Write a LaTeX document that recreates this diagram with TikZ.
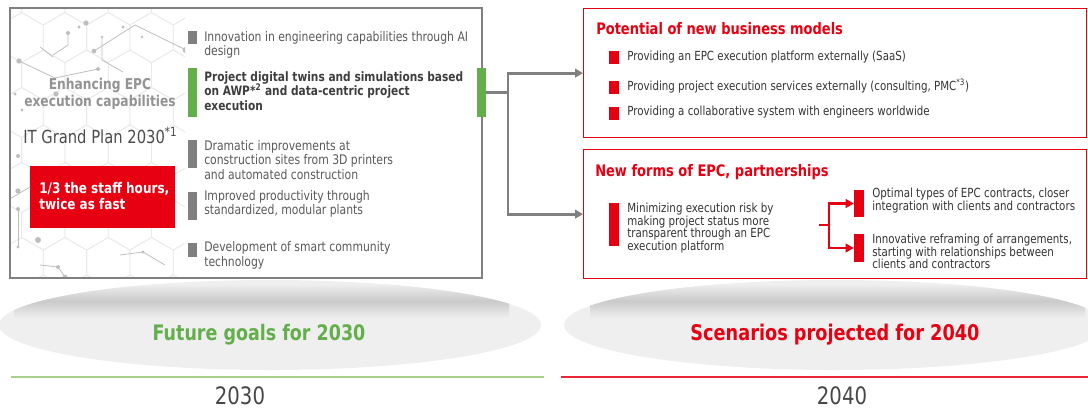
\documentclass[tikz,border=0pt]{standalone}
\usepackage{fontspec}
\setmainfont[FakeStretch=0.82]{DejaVu Sans}
\usetikzlibrary{arrows.meta,positioning}
\definecolor{chred}{RGB}{230,0,18}
\definecolor{chgreen}{RGB}{100,174,76}
\definecolor{lgreen}{RGB}{169,209,142}
\definecolor{bargray}{RGB}{128,128,128}
\definecolor{txt}{RGB}{89,89,89}
\definecolor{dtxt}{RGB}{51,51,51}
\definecolor{hexc}{RGB}{234,234,234}
\definecolor{netc}{RGB}{190,190,190}
\definecolor{ell}{RGB}{239,239,239}
\tikzset{
  every node/.style={inner sep=0pt},
  % Balken und Markierungen
  bar/.style={fill=#1, minimum width=6.75pt},
  sq/.style={fill=chred, minimum width=7.5pt, minimum height=9.75pt},
  % Texte
  item/.style={txt, anchor=west, align=left, font=\fontsize{9.9}{10.9}\selectfont},
  rtext/.style={dtxt, anchor=west, align=left, font=\fontsize{9.4}{9.5}\selectfont},
  title/.style={chred, anchor=base west, font=\fontsize{11.9}{13}\selectfont\bfseries},
  % Verbindungen
  conn/.style={bargray, line width=2.2pt},
  redconn/.style={chred, line width=2.2pt},
  tip/.style={-{Triangle[length=6pt,width=6.5pt]}},
  hexline/.style={hexc, line width=0.6pt},
  net/.style={netc, line width=0.6pt},
  ndot/.style={circle, fill=netc, minimum size=#1},
  ndot/.default=3pt,
}
\begin{document}
\begin{tikzpicture}[x=0.75pt, y=-0.75pt]
  \useasboundingbox (0,0) rectangle (1088,408);
  % Ellipsen unten mit Schatten
  \foreach \cx/\sx in {270/14, 835/590} {
    \begin{scope}
      \fill[ell] (\cx,325) ellipse [x radius=203.25pt, y radius=33.75pt];
      \clip (\cx,325) ellipse [x radius=203.25pt, y radius=33.75pt];
      \shade[top color=ell, bottom color=ell, middle color=black!21] (\sx,284) rectangle ++(495,34);
    \end{scope}
  }
  % Hexagonmuster links
  \begin{scope}
    \clip (10,8) rectangle (185,278);
    \foreach \i in {0,...,5} {
      \foreach \j in {0,...,8} {
        \pgfmathsetmacro{\hx}{\i*43.3+mod(\j,2)*21.65}
        \pgfmathsetmacro{\hy}{\j*37.5}
        \draw[hexline] (\hx,\hy) +(90:25) -- +(30:25) -- +(-30:25) -- +(-90:25) -- +(-150:25) -- +(150:25) -- cycle;
      }
    }
    \draw[net] (19,61) -- (55,78) -- (98,69);
    \draw[net] (94,51) -- (135,25) -- (186,50);
    \draw[net] (102,37) -- (102,60) -- (123,72);
    \draw[net] (68,33) -- (68,45) -- (53,55);
    \draw[net] (40,47) -- (53,57);
    \draw[net] (8,200) -- (30,187) -- (30,170);
    \draw[net] (18,209) -- (18,247);
    \draw[net] (143,252) -- (165,265);
    \draw[net] (120,255) -- (143,252);
    \draw[net] (40,265) -- (58,267) -- (65,277);
    \foreach \p/\s in {{(19,61)}/4pt, {(86,23)}/4pt, {(79,27)}/2.5pt, {(68,33)}/3pt, {(102,37)}/2pt,
        {(123,27)}/2.5pt, {(94,51)}/3.5pt, {(142,37)}/2pt, {(186,50)}/5pt, {(98,69)}/3pt,
        {(56,94)}/4pt, {(15,94)}/2.5pt, {(22,110)}/2.5pt, {(18,191)}/4pt, {(18,209)}/3pt,
        {(38,240)}/4.5pt, {(18,247)}/2.5pt, {(65,277)}/3.5pt, {(143,252)}/2.5pt, {(58,267)}/3pt,
        {(18,156)}/3pt}
      \node[ndot=\s] at \p {};
  \end{scope}
  % linker Kasten
  \draw[bargray, line width=1.1pt] (10,8) rectangle (482,278);
  \node[bargray!85, align=center, font=\fontsize{11.2}{12.75}\selectfont\bfseries] (enh) at (100,93.5)
    {Enhancing EPC\\execution capabilities};
  \node[txt!85!black, anchor=base west, font=\fontsize{13.5}{15}\selectfont] (plan) at (23,143)
    {IT Grand Plan 2030\textsuperscript{*1}};
  \node[fill=chred, anchor=north west, minimum width=108.75pt, minimum height=46.5pt] (goal) at (30,166) {};
  \node[white, anchor=west, align=left, font=\fontsize{11}{12}\selectfont\bfseries] (goaltxt) at (39,196.5)
    {1/3 the staff hours,\\twice as fast};
  % Stichpunkte
  \node[bar=bargray, minimum height=9.75pt] (b1) at (192.5,37.5) {};
  \node[bar=chgreen, minimum height=36.75pt] (gbar) at (192.5,92.5) {};
  \node[bar=bargray, minimum height=21pt] (b3) at (192.5,154) {};
  \node[bar=bargray, minimum height=21pt] (b4) at (192.5,206) {};
  \node[bar=bargray, minimum height=10.5pt] (b5) at (192.5,250) {};
  \node[item] (t1) at (204,45) {Innovation in engineering capabilities through AI\\design};
  \node[item, text=txt!70!black, font=\fontsize{9.7}{10.9}\selectfont\bfseries] (t2) at (204,91)
    {Project digital twins and simulations based\\on AWP*\textsuperscript{2} and data-centric project\\execution};
  \node[item] (t3) at (204,160) {Dramatic improvements at\\construction sites from 3D printers\\and automated construction};
  \node[item] (t4) at (204,204) {Improved productivity through\\standardized, modular plants};
  \node[item] (t5) at (204,255.5) {Development of smart community\\technology};
  \node[bar=chgreen, minimum height=36.75pt] (gbarR) at (481.5,92.5) {};
  % rechte Kaesten
  \node[draw=chred, line width=0.9pt, anchor=north west, minimum width=377.25pt, minimum height=96.75pt] (potbox) at (583,8) {};
  \node[draw=chred, line width=0.9pt, anchor=north west, minimum width=377.25pt, minimum height=96.75pt] (newbox) at (583,149) {};
  \node[title] (pot) at (596,34) {Potential of new business models};
  \node[sq] (s1) at (614,57.5) {};
  \node[sq] (s2) at (614,87) {};
  \node[sq] (s3) at (614,113.5) {};
  \node[rtext] (r1) at (627,57) {Providing an EPC execution platform externally (SaaS)};
  \node[rtext] (r2) at (627,86) {Providing project execution services externally (consulting, PMC\textsuperscript{*3})};
  \node[rtext] (r3) at (627,112) {Providing a collaborative system with engineers worldwide};
  \node[title] (new) at (595,176.5) {New forms of EPC, partnerships};
  \node[fill=chred, minimum width=7.5pt, minimum height=32.25pt] (riskbar) at (614,224.5) {};
  \node[rtext] (risk) at (627,228) {Minimizing execution risk by\\making project status more\\transparent through an EPC\\execution platform};
  \node[fill=chred, minimum width=7.5pt, minimum height=20.25pt] (ctrbar) at (859,203.5) {};
  \node[fill=chred, minimum width=7.5pt, minimum height=21pt] (arrbar) at (859,248) {};
  \node[rtext] (ctr) at (872,200.5) {Optimal types of EPC contracts, closer\\integration with clients and contractors};
  \node[rtext] (arr) at (872,251.5) {Innovative reframing of arrangements,\\starting with relationships between\\clients and contractors};
  % Verbindungen
  \coordinate (hub) at (508,92.5);
  \draw[conn] (gbarR.east) -- (hub);
  \draw[conn, tip] (hub) |- (potbox.west);
  \draw[conn, tip] (hub) |- (newbox.west);
  \coordinate (fork) at (819,225);
  \draw[redconn] (fork) -- ++(10,0) coordinate (forkv);
  \draw[redconn, tip] (forkv) |- (ctrbar.west);
  \draw[redconn, tip] (forkv) |- (arrbar.west);
  % Beschriftung unten
  \node[chgreen, font=\fontsize{16}{18}\selectfont\bfseries] (goals) at (259,335) {Future goals for 2030};
  \node[chred, font=\fontsize{16.2}{18}\selectfont\bfseries] (scen) at (835,335) {Scenarios projected for 2040};
  \draw[lgreen, line width=1.1pt] (11,377) -- (544,377);
  \draw[chred!85, line width=1.1pt] (561,377) -- (1088,377);
  \node[txt!80!black, font=\fontsize{18}{20}\selectfont] (y1) at (240,395.5) {2030};
  \node[txt!80!black, font=\fontsize{18}{20}\selectfont] (y2) at (842,395.5) {2040};
\end{tikzpicture}
\end{document}
